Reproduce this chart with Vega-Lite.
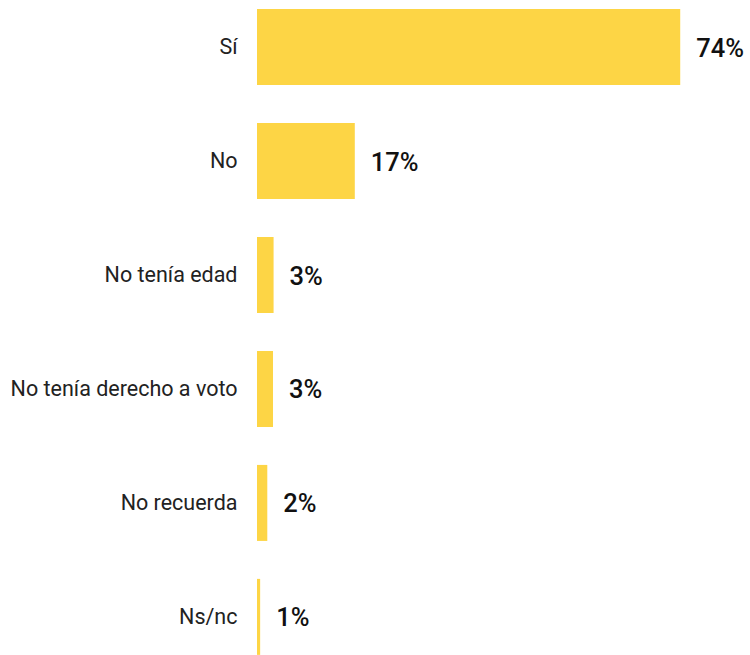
{
  "$schema": "https://vega.github.io/schema/vega-lite/v6.json",
  "autosize": {"type": "none"},
  "padding": {"left": 257, "top": 0, "right": 0, "bottom": 0},
  "width": 493,
  "height": 664,
  "background": "white",
  "data": {"values": [
    {"cat": "Sí", "value": 74.0, "label": "74%"},
    {"cat": "No", "value": 17.1, "label": "17%"},
    {"cat": "No tenía edad", "value": 2.9, "label": "3%"},
    {"cat": "No tenía derecho a voto", "value": 2.8, "label": "3%"},
    {"cat": "No recuerda", "value": 1.8, "label": "2%"},
    {"cat": "Ns/nc", "value": 0.55, "label": "1%"}
  ]},
  "encoding": {
    "y": {"field": "cat", "type": "nominal", "sort": null,
      "scale": {"paddingInner": 0.333, "paddingOuter": 0.08},
      "axis": {"title": null, "domain": false, "ticks": false, "labelPadding": 20, "labelFontSize": 21.5, "labelFont": "Roboto", "labelColor": "#222222", "labelLimit": 400, "labelOffset": 1}},
    "x": {"field": "value", "type": "quantitative", "scale": {"domain": [0, 86.2], "nice": false}, "axis": null}
  },
  "layer": [
    {"mark": {"type": "bar", "color": "#FDD545"}},
    {"mark": {"type": "text", "align": "left", "dx": 16, "dy": 1.5, "font": "Roboto", "fontSize": 25.5, "fontWeight": 500, "color": "#111111", "baseline": "middle"},
     "encoding": {"text": {"field": "label"}}}
  ],
  "config": {"view": {"stroke": null}}
}
